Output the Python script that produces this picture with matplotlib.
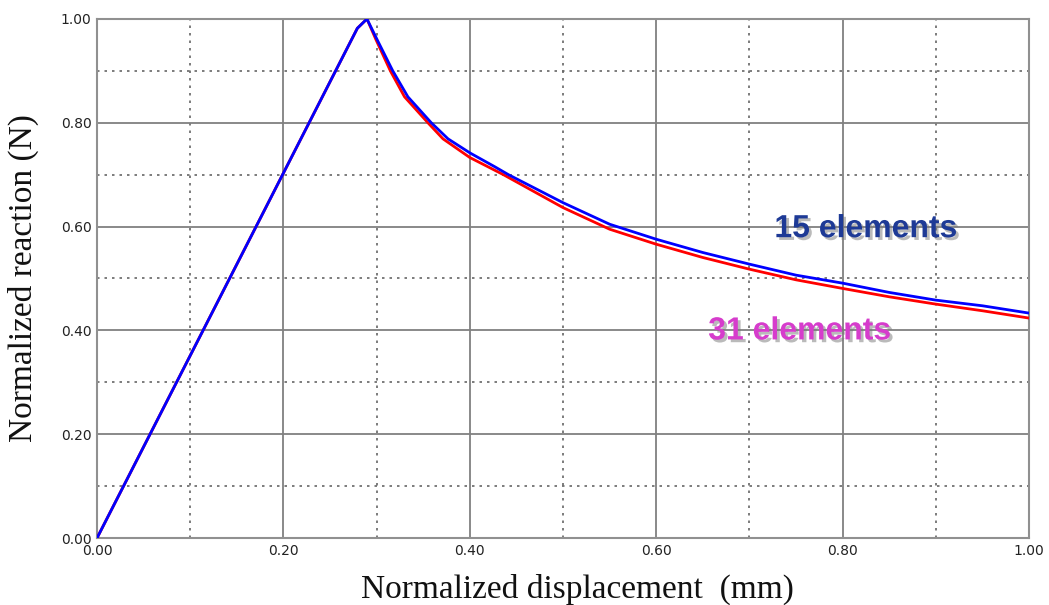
import matplotlib
matplotlib.use("Agg")
import matplotlib.pyplot as plt
import matplotlib.patheffects as pe
from matplotlib.ticker import MultipleLocator

# Normalized reaction vs displacement for two mesh densities
disp_15 = [0.0, 0.2793, 0.2896, 0.3011, 0.3173, 0.3335, 0.3586, 0.3766,
           0.400, 0.427, 0.4414, 0.500, 0.550, 0.600, 0.650, 0.700, 0.750,
           0.800, 0.850, 0.900, 0.950, 1.000]
react_15 = [0.0, 0.982, 1.000, 0.958, 0.900, 0.850, 0.800, 0.769,
            0.742, 0.715, 0.700, 0.646, 0.6045, 0.5756, 0.550, 0.5276, 0.5064,
            0.491, 0.4731, 0.4583, 0.4474, 0.4333]

disp_31 = [0.0, 0.2793, 0.2896, 0.2993, 0.3147, 0.3299, 0.355, 0.3712,
           0.400, 0.436, 0.500, 0.550, 0.600, 0.650, 0.700, 0.750,
           0.800, 0.850, 0.900, 0.950, 1.000]
react_31 = [0.0, 0.982, 1.000, 0.960, 0.900, 0.850, 0.800, 0.769,
            0.733, 0.700, 0.6365, 0.5949, 0.566, 0.5404, 0.5179, 0.4974,
            0.4808, 0.4647, 0.4506, 0.4378, 0.4237]

x_ticks = [0.0, 0.2, 0.4, 0.6, 0.8, 1.0]
y_ticks = [0.0, 0.2, 0.4, 0.6, 0.8, 1.0]

fig = plt.figure(figsize=(10.49, 6.05), dpi=100)
ax = fig.add_axes([0.0925, 0.1107, 0.8885, 0.858])

ax.plot(disp_31, react_31, color="#ff0000", lw=2.0, zorder=3)
ax.plot(disp_15, react_15, color="#0000ff", lw=2.0, zorder=4)

ax.set_xlim(0, 1)
ax.set_ylim(0, 1)
ax.set_xticks(x_ticks)
ax.set_yticks(y_ticks)
ax.set_xticklabels([f"{v:.2f}" for v in x_ticks])
ax.set_yticklabels([f"{v:.2f}" for v in y_ticks])
ax.xaxis.set_minor_locator(MultipleLocator(0.1))
ax.yaxis.set_minor_locator(MultipleLocator(0.1))

ax.grid(which="major", color="#808080", lw=1.3, ls="-")
ax.grid(which="minor", color="#666666", lw=1.2, ls=(0, (1.5, 3)))
ax.set_axisbelow(True)
for s in ax.spines.values():
    s.set_color("#909090")
    s.set_linewidth(1.5)

ax.tick_params(which="both", length=0, labelsize=10, colors="#222222")
ax.tick_params(axis="x", pad=4)
ax.tick_params(axis="y", pad=4)
for lbl in ax.get_xticklabels() + ax.get_yticklabels():
    lbl.set_family("DejaVu Sans")

fig.text(0.55, 0.012, "Normalized displacement  (mm)", family="Liberation Serif",
         fontsize=24, color="#111111", ha="center", va="baseline")
fig.text(0.022, 0.54, "Normalized reaction (N)", family="Liberation Serif",
         fontsize=24, color="#111111", ha="center", va="center", rotation=90)

shadow = [pe.withSimplePatchShadow(offset=(2, -2), shadow_rgbFace="#777777", alpha=0.5)]
ax.text(0.825, 0.595, "15 elements", family="Liberation Sans", weight="bold",
        fontsize=23, color="#1e3a96", ha="center", va="center",
        path_effects=shadow, zorder=5)
ax.text(0.754, 0.398, "31 elements", family="Liberation Sans", weight="bold",
        fontsize=23, color="#d63ccc", ha="center", va="center",
        path_effects=shadow, zorder=5)

fig.savefig("out.png", dpi=100, facecolor="white")
